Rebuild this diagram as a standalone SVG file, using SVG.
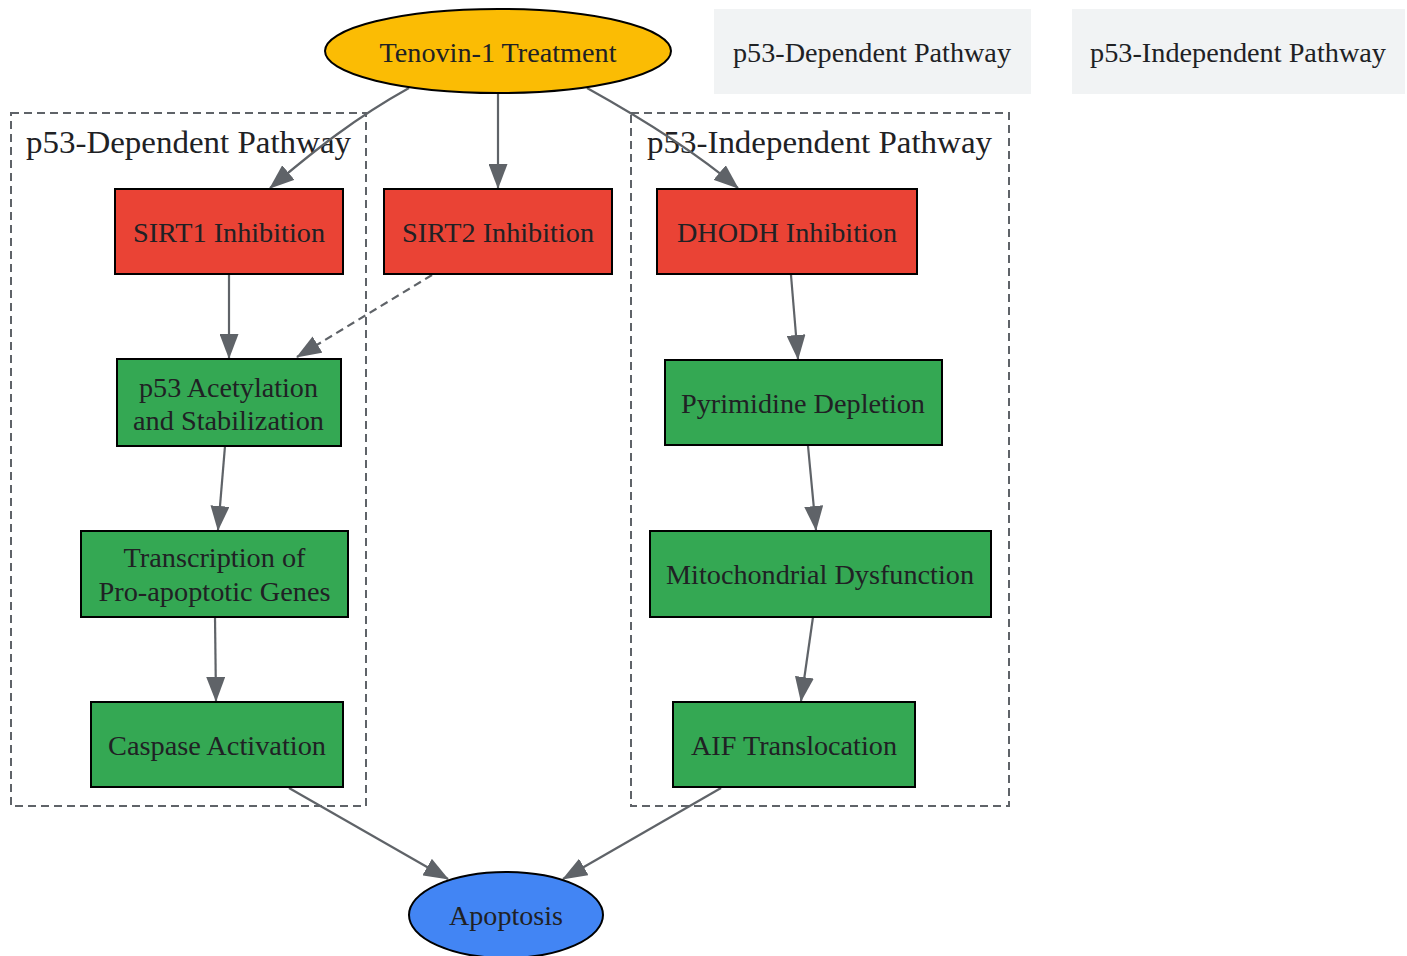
<svg xmlns="http://www.w3.org/2000/svg" width="1407" height="956" viewBox="0 0 1407 956">
<style>
text{font-family:"Liberation Serif","Times New Roman",serif;fill:#202124;text-anchor:middle}
.n{font-size:27px}
.cl{font-size:32px}
.box{stroke:#000;stroke-width:2}
.red{fill:#EA4335}
.green{fill:#34A853}
.cluster{fill:none;stroke:#5f6368;stroke-width:2;stroke-dasharray:8,5}
.e{fill:none;stroke:#5f6368;stroke-width:2.2;marker-end:url(#arr)}
.dash{stroke-dasharray:8,5}
.legend{fill:#F1F3F4}
</style>
<defs>
<marker id="arr" markerUnits="userSpaceOnUse" markerWidth="25" markerHeight="19" viewBox="0 0 25 19" refX="24" refY="9.5" orient="auto">
<path d="M0,0 L25,9.5 L0,19 z" fill="#5f6368"/>
</marker>
</defs>
<rect width="1407" height="956" fill="#fff"/>
<g id="cluster_dep">
<rect class="cluster" x="11" y="113" width="355" height="693"/>
<text class="cl" x="188.5" y="153" textLength="325" lengthAdjust="spacingAndGlyphs">p53-Dependent Pathway</text>
</g>
<g id="cluster_indep">
<rect class="cluster" x="631" y="113" width="378" height="693"/>
<text class="cl" x="819.5" y="153" textLength="345" lengthAdjust="spacingAndGlyphs">p53-Independent Pathway</text>
</g>
<g id="edges">
<path class="e" d="M409,88 C355,118 315,150 270,188"/>
<path class="e" d="M498,93 L498,188"/>
<path class="e" d="M587,88 C641,118 693,150 738,188"/>
<path class="e" d="M229,274 L229,358"/>
<path class="e dash" d="M432,275 L297,357"/>
<path class="e" d="M225,446 L218,530"/>
<path class="e" d="M215,617 L216,701"/>
<path class="e" d="M791,275 L798,359"/>
<path class="e" d="M808,446 L816,530"/>
<path class="e" d="M813,617 L801,701"/>
<path class="e" d="M289,788 L448,879"/>
<path class="e" d="M721,788 L563,879"/>
</g>
<g id="tenovin">
<ellipse cx="498" cy="51" rx="173" ry="42" fill="#FBBC04" class="box"/>
<text class="n" x="498" y="62" textLength="237" lengthAdjust="spacingAndGlyphs">Tenovin-1 Treatment</text>
</g>
<g id="legend_dep">
<rect class="legend" x="714" y="9" width="317" height="85"/>
<text class="n" x="872" y="62" textLength="278" lengthAdjust="spacingAndGlyphs">p53-Dependent Pathway</text>
</g>
<g id="legend_indep">
<rect class="legend" x="1072" y="9" width="333" height="85"/>
<text class="n" x="1238" y="62" textLength="296" lengthAdjust="spacingAndGlyphs">p53-Independent Pathway</text>
</g>
<g id="sirt1">
<rect class="box red" x="115" y="189" width="228" height="85"/>
<text class="n" x="229" y="242" textLength="192" lengthAdjust="spacingAndGlyphs">SIRT1 Inhibition</text>
</g>
<g id="sirt2">
<rect class="box red" x="384" y="189" width="228" height="85"/>
<text class="n" x="498" y="242" textLength="192" lengthAdjust="spacingAndGlyphs">SIRT2 Inhibition</text>
</g>
<g id="dhodh">
<rect class="box red" x="657" y="189" width="260" height="85"/>
<text class="n" x="787" y="242" textLength="220" lengthAdjust="spacingAndGlyphs">DHODH Inhibition</text>
</g>
<g id="p53acet">
<rect class="box green" x="117" y="359" width="224" height="87"/>
<text class="n" x="228.5" y="397" textLength="179" lengthAdjust="spacingAndGlyphs">p53 Acetylation</text>
<text class="n" x="228.5" y="430" textLength="191" lengthAdjust="spacingAndGlyphs">and Stabilization</text>
</g>
<g id="pyrimidine">
<rect class="box green" x="665" y="360" width="277" height="85"/>
<text class="n" x="803" y="413" textLength="244" lengthAdjust="spacingAndGlyphs">Pyrimidine Depletion</text>
</g>
<g id="transcription">
<rect class="box green" x="81" y="531" width="267" height="86"/>
<text class="n" x="214.5" y="567" textLength="182" lengthAdjust="spacingAndGlyphs">Transcription of</text>
<text class="n" x="214.5" y="601" textLength="232" lengthAdjust="spacingAndGlyphs">Pro-apoptotic Genes</text>
</g>
<g id="mito">
<rect class="box green" x="650" y="531" width="341" height="86"/>
<text class="n" x="820" y="584" textLength="308" lengthAdjust="spacingAndGlyphs">Mitochondrial Dysfunction</text>
</g>
<g id="caspase">
<rect class="box green" x="91" y="702" width="252" height="85"/>
<text class="n" x="217" y="755" textLength="218" lengthAdjust="spacingAndGlyphs">Caspase Activation</text>
</g>
<g id="aif">
<rect class="box green" x="673" y="702" width="242" height="85"/>
<text class="n" x="794" y="755" textLength="206" lengthAdjust="spacingAndGlyphs">AIF Translocation</text>
</g>
<g id="apoptosis">
<ellipse cx="506" cy="915" rx="97" ry="43" fill="#4285F4" class="box"/>
<text class="n" x="506" y="925" textLength="114" lengthAdjust="spacingAndGlyphs">Apoptosis</text>
</g>
</svg>
